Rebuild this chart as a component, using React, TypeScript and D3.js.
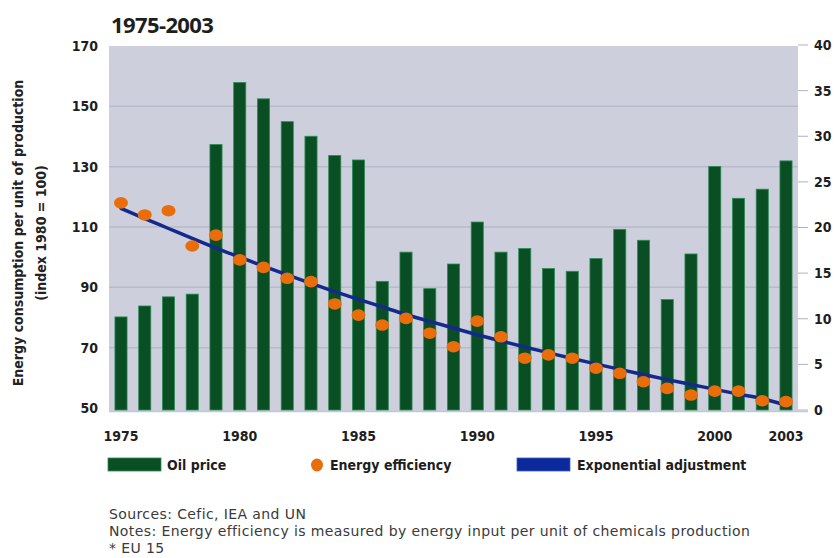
import React, { useEffect, useRef } from 'react'
import * as d3 from 'd3'

const years = d3.range(1975, 2004)

// Oil price (right axis)
const oilPrice = [
  10.2, 11.4, 12.4, 12.7, 29.1, 35.9, 34.1, 31.6, 30.0, 27.9,
  27.4, 14.1, 17.3, 13.3, 16.0, 20.6, 17.3, 17.7, 15.5, 15.2,
  16.6, 19.8, 18.6, 12.1, 17.1, 26.7, 23.2, 24.2, 27.3
]

// Energy efficiency (left axis, index 1980 = 100)
const energyEfficiency = [
  118.0, 114.0, 115.4, 103.7, 107.3, 99.1, 96.6, 93.0, 91.9, 84.5,
  80.8, 77.5, 79.7, 74.8, 70.3, 78.8, 73.6, 66.5, 67.6, 66.5,
  63.2, 61.5, 58.7, 56.5, 54.3, 55.6, 55.6, 52.4, 52.1
]

// Exponential adjustment
const expAdjustment = [
  116.2, 112.8, 109.5, 106.2, 103.0, 100.0, 97.0, 94.1, 91.3, 88.6,
  86.0, 83.5, 81.0, 78.7, 76.5, 74.3, 72.2, 70.2, 68.3, 66.4,
  64.6, 62.8, 61.1, 59.4, 57.8, 56.2, 54.6, 53.1, 51.0
]

const xLabels = [1975, 1980, 1985, 1990, 1995, 2000, 2003]
const leftTicks = [50, 70, 90, 110, 130, 150, 170]
const rightTicks = [0, 5, 10, 15, 20, 25, 30, 35, 40]

const legendItems = ['Oil price', 'Energy efficiency', 'Exponential adjustment']
const notes = [
  'Sources: Cefic, IEA and UN',
  'Notes: Energy efficiency is measured by energy input per unit of chemicals production',
  '* EU 15'
]

const BOLD_FONT = '"Liberation Sans Narrow", "DejaVu Sans Condensed", sans-serif'

const App: React.FC = () => {
  const svgRef = useRef<SVGSVGElement>(null)

  useEffect(() => {
    if (!svgRef.current) return
    const svg = d3.select(svgRef.current)
    svg.selectAll('*').remove()

    const width = 836
    const height = 558
    const plot = { left: 109, right: 798, top: 46, bottom: 410 }

    svg.attr('width', width).attr('height', height)
    svg.append('rect').attr('width', width).attr('height', height).attr('fill', '#ffffff')

    const x = d3.scaleBand<number>()
      .domain(years)
      .range([plot.left, plot.right])
      .paddingInner(0.49)
      .paddingOuter(0.25)

    const yLeft = d3.scaleLinear().domain([50, 170]).range([plot.bottom - 2, plot.top])
    const yRight = d3.scaleLinear().domain([0, 40]).range([plot.bottom, plot.top - 1])

    // plot background
    svg.append('rect')
      .attr('x', plot.left)
      .attr('y', plot.top)
      .attr('width', plot.right - plot.left)
      .attr('height', plot.bottom - plot.top + 2)
      .attr('fill', '#cdd0dc')

    // gridlines
    svg.append('g')
      .selectAll('line')
      .data(leftTicks.slice(1, -1))
      .enter()
      .append('line')
      .attr('x1', plot.left)
      .attr('x2', plot.right)
      .attr('y1', d => yLeft(d))
      .attr('y2', d => yLeft(d))
      .attr('stroke', '#b7bacb')
      .attr('stroke-width', 1.5)

    // bottom line
    svg.append('line')
      .attr('x1', plot.left)
      .attr('x2', plot.right + 10)
      .attr('y1', plot.bottom + 1.5)
      .attr('y2', plot.bottom + 1.5)
      .attr('stroke', '#c4c7d2')
      .attr('stroke-width', 1.5)

    // left tick labels
    svg.append('g')
      .selectAll('text')
      .data(leftTicks)
      .enter()
      .append('text')
      .attr('x', 98)
      .attr('y', d => yLeft(d))
      .attr('dy', '0.35em')
      .attr('text-anchor', 'end')
      .style('font-family', BOLD_FONT)
      .style('font-weight', 'bold')
      .style('font-size', '14px')
      .style('fill', '#1e1e1e')
      .text(d => d)

    // right axis ticks and labels
    const rAxis = svg.append('g')
    rAxis.selectAll('line')
      .data(rightTicks)
      .enter()
      .append('line')
      .attr('x1', plot.right)
      .attr('x2', plot.right + 10)
      .attr('y1', d => yRight(d))
      .attr('y2', d => yRight(d))
      .attr('stroke', '#b0b3be')
      .attr('stroke-width', 1)
    rAxis.selectAll('text')
      .data(rightTicks)
      .enter()
      .append('text')
      .attr('x', 814)
      .attr('y', d => yRight(d))
      .attr('dy', '0.35em')
      .style('font-family', BOLD_FONT)
      .style('font-weight', 'bold')
      .style('font-size', '14px')
      .style('fill', '#1e1e1e')
      .text(d => d)

    // bars
    svg.append('g')
      .selectAll('rect')
      .data(oilPrice)
      .enter()
      .append('rect')
      .attr('x', (d, i) => x(years[i]) as number)
      .attr('y', d => yRight(d))
      .attr('width', x.bandwidth())
      .attr('height', d => plot.bottom - yRight(d))
      .attr('fill', '#0a4e24')
      .attr('stroke', '#2f8c57')
      .attr('stroke-width', 0.8)

    const cx = (i: number) => (x(years[i]) as number) + x.bandwidth() / 2

    // exponential adjustment line
    const line = d3.line<number>()
      .x((d, i) => cx(i))
      .y(d => yLeft(d))
      .curve(d3.curveMonotoneX)
    svg.append('path')
      .datum(expAdjustment)
      .attr('d', line)
      .attr('fill', 'none')
      .attr('stroke', '#14298c')
      .attr('stroke-width', 3.5)
      .attr('stroke-linecap', 'round')

    // energy efficiency dots
    svg.append('g')
      .selectAll('ellipse')
      .data(energyEfficiency)
      .enter()
      .append('ellipse')
      .attr('cx', (d, i) => cx(i))
      .attr('cy', d => yLeft(d))
      .attr('rx', 7)
      .attr('ry', 5.8)
      .attr('fill', '#ea6d0b')

    // x labels
    svg.append('g')
      .selectAll('text')
      .data(xLabels)
      .enter()
      .append('text')
      .attr('x', d => cx(years.indexOf(d)))
      .attr('y', 441)
      .attr('text-anchor', 'middle')
      .style('font-family', BOLD_FONT)
      .style('font-weight', 'bold')
      .style('font-size', '14px')
      .style('fill', '#1e1e1e')
      .text(d => d)

    // title
    svg.append('text')
      .attr('x', 111)
      .attr('y', 33)
      .style('font-family', '"Open Sans", "DejaVu Sans", sans-serif')
      .style('font-weight', 'bold')
      .style('font-size', '22px')
      .style('letter-spacing', '-0.6px')
      .style('fill', '#1e1e1e')
      .text('1975-2003')

    // y axis title
    const yTitle = svg.append('text')
      .attr('transform', 'translate(0, 233) rotate(-90)')
      .attr('text-anchor', 'middle')
      .style('font-family', BOLD_FONT)
      .style('font-weight', '600')
      .style('font-size', '14px')
      .style('fill', '#222')
    yTitle.append('tspan').attr('x', 0).attr('y', 23).text('Energy consumption per unit of production')
    yTitle.append('tspan').attr('x', 0).attr('y', 46).text('(index 1980 = 100)')

    // legend
    const legend = svg.append('g')
    const lx = [108, 317, 517]
    const textX = [167, 330, 577]
    legend.append('rect')
      .attr('x', lx[0]).attr('y', 458).attr('width', 53).attr('height', 13)
      .attr('fill', '#0a4e24').attr('stroke', '#2f8c57').attr('stroke-width', 0.8)
    legend.append('ellipse')
      .attr('cx', lx[1]).attr('cy', 465).attr('rx', 6).attr('ry', 6.5)
      .attr('fill', '#ea6d0b')
    legend.append('rect')
      .attr('x', lx[2]).attr('y', 458).attr('width', 53).attr('height', 13)
      .attr('fill', '#0c2a9c').attr('stroke', '#3a5fc0').attr('stroke-width', 0.8)
    legend.selectAll('text')
      .data(legendItems)
      .enter()
      .append('text')
      .attr('x', (d, i) => textX[i])
      .attr('y', 465)
      .attr('dy', '0.35em')
      .style('font-family', BOLD_FONT)
      .style('font-weight', 'bold')
      .style('font-size', '14px')
      .style('fill', '#1e1e1e')
      .text(d => d)

    // footnotes
    svg.append('g')
      .selectAll('text')
      .data(notes)
      .enter()
      .append('text')
      .attr('x', 109)
      .attr('y', (d, i) => 519 + i * 17)
      .style('font-family', '"DejaVu Sans", sans-serif')
      .style('font-size', '14px')
      .style('letter-spacing', '0.4px')
      .style('fill', '#3a3a3a')
      .text(d => d)
  }, [])

  return (
    <div style={{ position: 'absolute', left: 0, top: 0 }}>
      <svg ref={svgRef} style={{ display: 'block' }}></svg>
    </div>
  )
}

export default App
